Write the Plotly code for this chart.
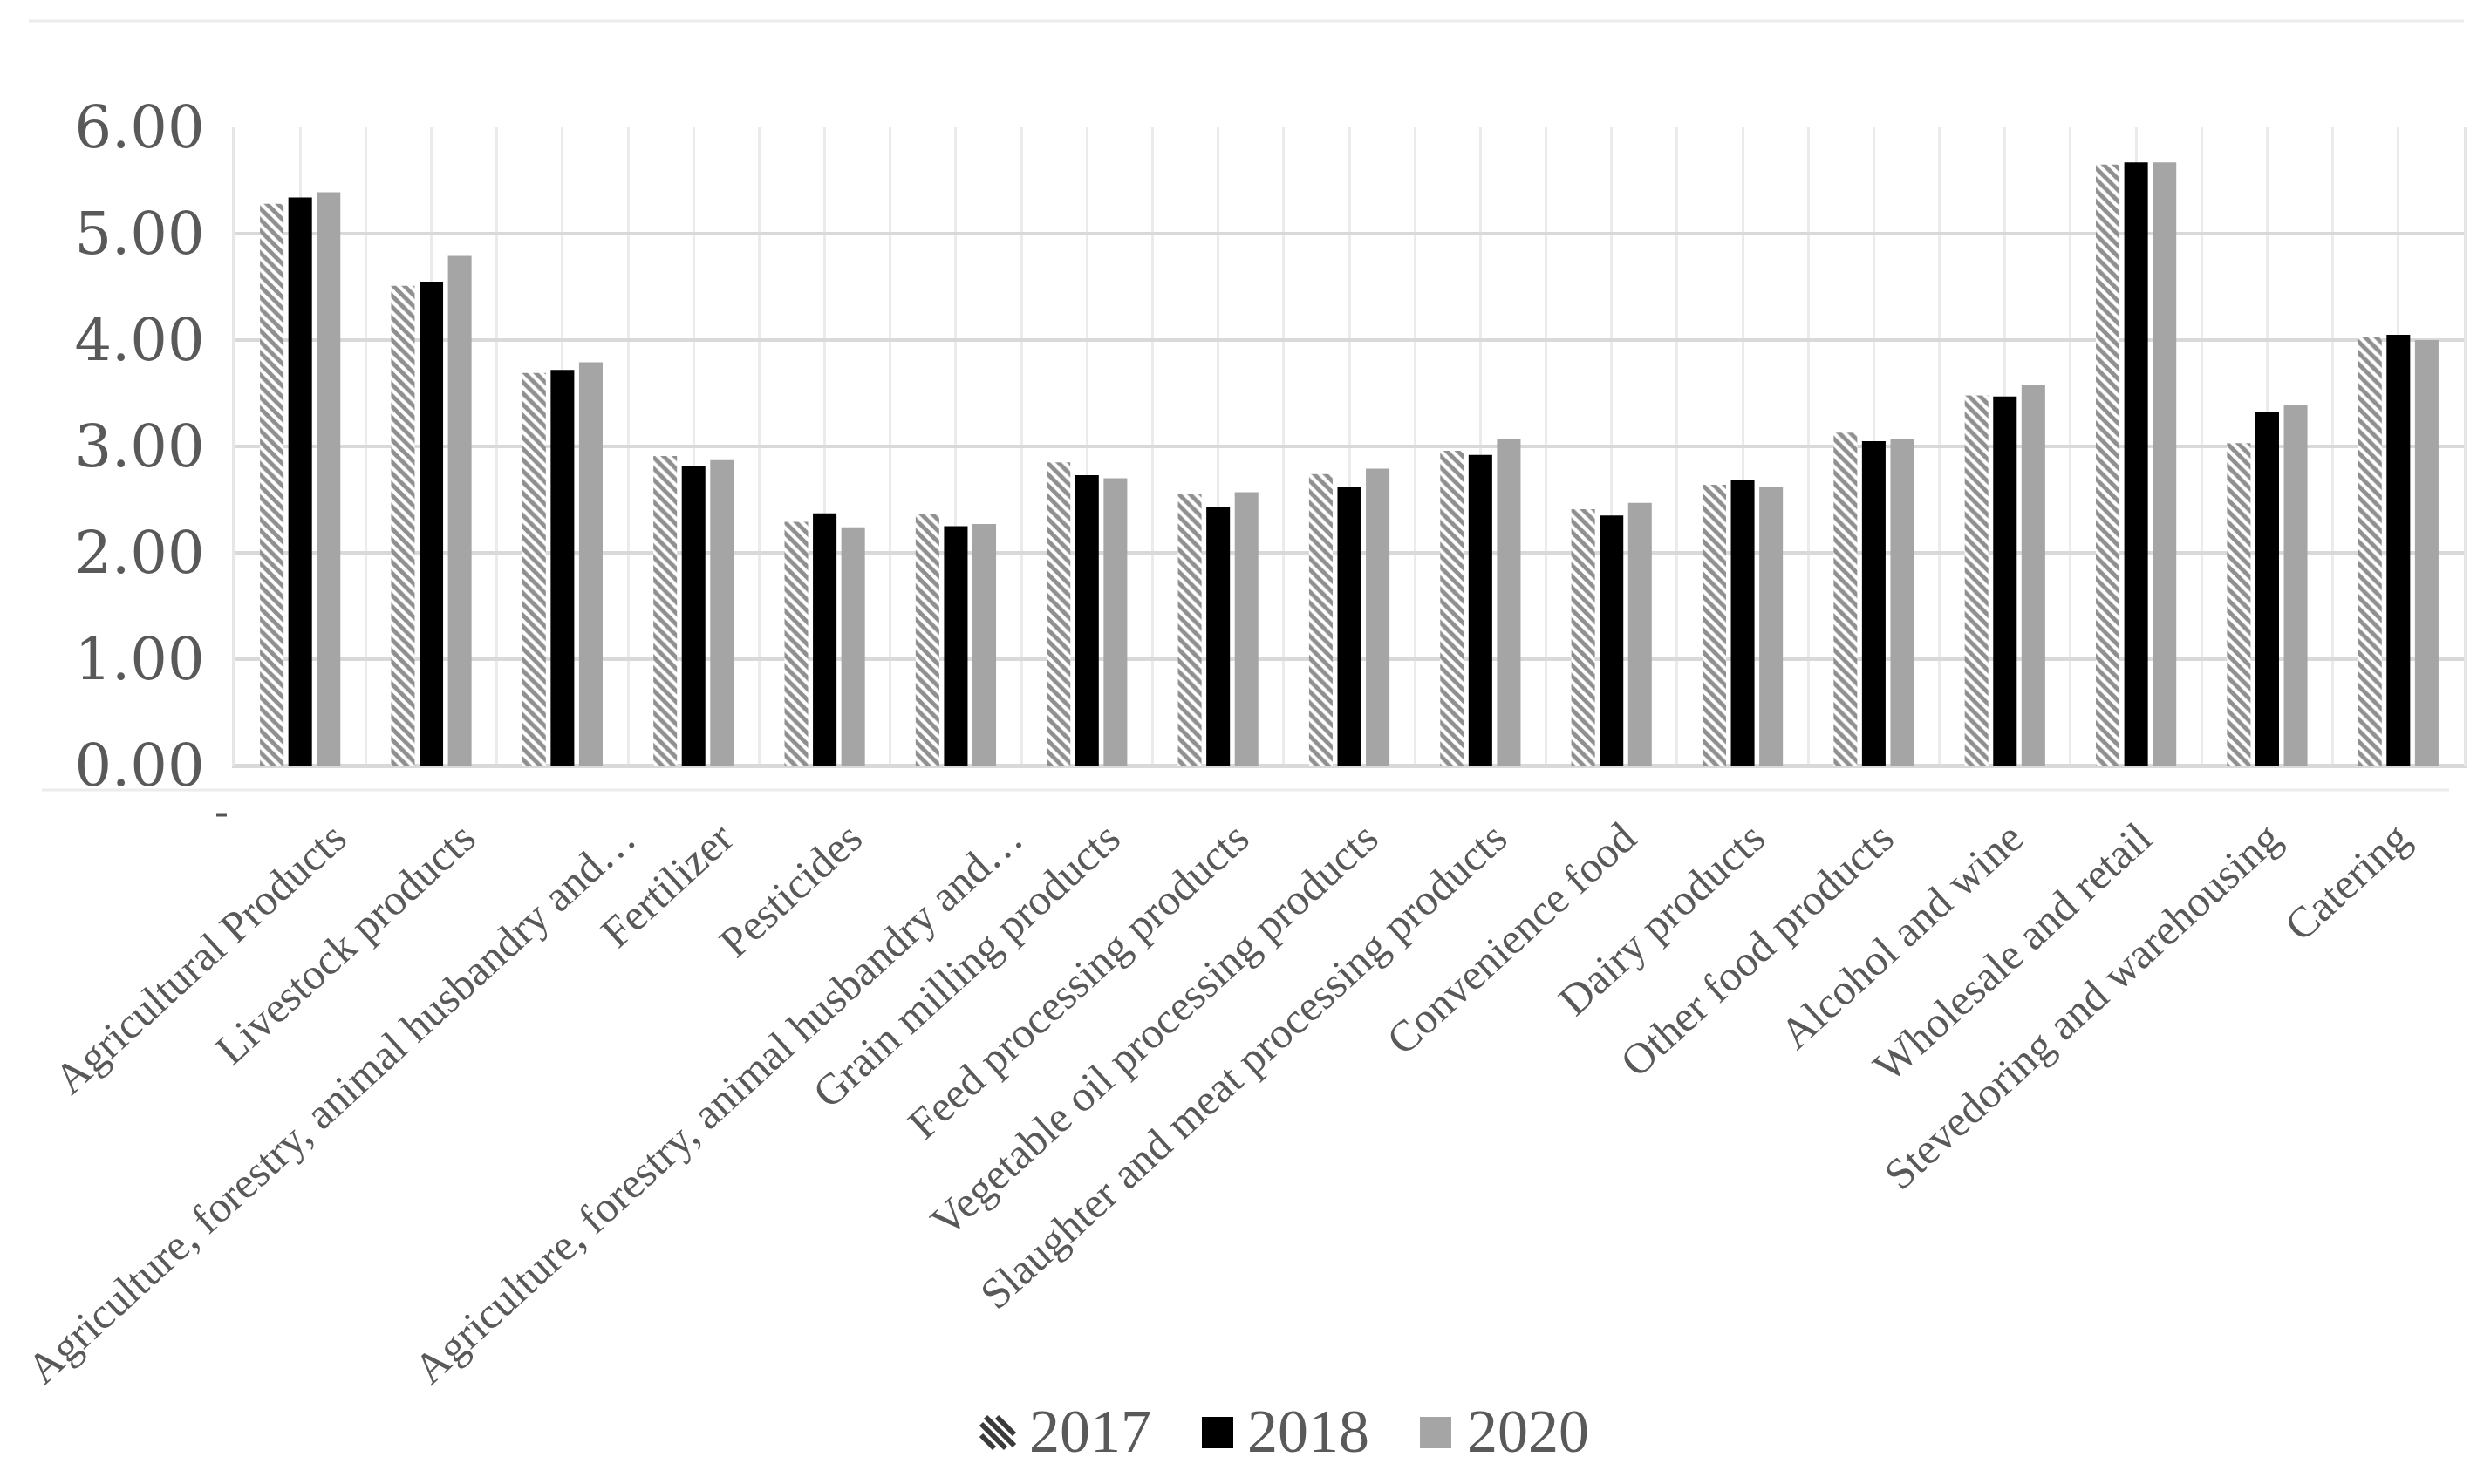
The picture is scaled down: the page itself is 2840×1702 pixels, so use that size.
import plotly.graph_objects as go

categories = [
    "Agricultural Products",
    "Livestock products",
    "Agriculture, forestry, animal husbandry and…",
    "Fertilizer",
    "Pesticides",
    "Agriculture, forestry, animal husbandry and…",
    "Grain milling products",
    "Feed processing products",
    "Vegetable oil processing products",
    "Slaughter and meat processing products",
    "Convenience food",
    "Dairy products",
    "Other food products",
    "Alcohol and wine",
    "Wholesale and retail",
    "Stevedoring and warehousing",
    "Catering",
]

v2017 = [5.28, 4.51, 3.69, 2.91, 2.29, 2.36, 2.85, 2.55, 2.74, 2.96, 2.41, 2.64, 3.13, 3.48, 5.65, 3.03, 4.03]
v2018 = [5.34, 4.55, 3.72, 2.82, 2.37, 2.25, 2.73, 2.43, 2.62, 2.92, 2.35, 2.68, 3.05, 3.47, 5.67, 3.32, 4.05]
v2020 = [5.39, 4.79, 3.79, 2.87, 2.24, 2.27, 2.70, 2.57, 2.79, 3.07, 2.47, 2.62, 3.07, 3.58, 5.67, 3.39, 4.00]

series_names = ["2017", "2018", "2020"]
series_colors = ["white", "#000000", "#a5a5a5"]

FONT = "Liberation Serif"
TXT = "#595959"

W, H = 2840, 1702
ML, MR, MT, MB = 261, 23, 138, 832
PW = W - ML - MR
PH = H - MT - MB


def px(xp):
    return (xp - ML) / PW


def py(yp):
    return (H - MB - yp) / PH


n = len(categories)
pos = list(range(n))
# label anchors: slight rightward nudge (the source image's labels are offset),
# truncated labels sit a bit further right
label_pos = [p + 0.26 - 0.0166 * p + (0.24 if categories[p].endswith("…") else 0.0)
             for p in pos]
grid_pos = [k * 0.5 - 0.5 for k in range(2 * n + 1)]

fig = go.Figure()
fig.add_trace(go.Bar(
    x=pos, y=v2017, name=series_names[0], showlegend=False,
    marker=dict(color=series_colors[0], line=dict(width=0),
                pattern=dict(shape="\\", fgcolor="#1f1f1f", bgcolor="white",
                             size=9, solidity=0.55)),
))
fig.add_trace(go.Bar(
    x=pos, y=v2018, name=series_names[1], showlegend=False,
    marker=dict(color=series_colors[1], line=dict(width=0)),
))
fig.add_trace(go.Bar(
    x=pos, y=v2020, name=series_names[2], showlegend=False,
    marker=dict(color=series_colors[2], line=dict(width=0)),
))

shapes = [
    dict(type="line", xref="paper", yref="paper", x0=px(25), x1=1.0, y0=py(16), y1=py(16),
         line=dict(color="#ececec", width=3)),
    dict(type="line", xref="paper", yref="paper", x0=px(40), x1=px(2800), y0=py(898), y1=py(898),
         line=dict(color="#ececec", width=3)),
    dict(type="line", xref="paper", yref="paper", x0=px(240), x1=px(252), y0=py(927), y1=py(927),
         line=dict(color="#555555", width=3)),
]
annotations = []

# ---- custom legend (large symbols like the reference) ----
icon_left = [1117, 1370, 1620]
text_left = [1170, 1420, 1672]
icon_top, icon_bot = 1617, 1653
text_mid = 1633

bw, bh = 38, 36
for c in [-21, -8, 5, 18]:
    if c >= 0:
        sx, sy = c, 0
    else:
        sx, sy = 0, -c
    ey = min(bh, bw - c)
    ex = ey + c
    shapes.append(dict(type="line", xref="paper", yref="paper",
                       x0=px(icon_left[0] + sx), y0=py(icon_top + sy),
                       x1=px(icon_left[0] + ex), y1=py(icon_top + ey),
                       line=dict(color="#3a3a3a", width=6)))
for i in (1, 2):
    shapes.append(dict(type="rect", xref="paper", yref="paper",
                       x0=px(icon_left[i]), x1=px(icon_left[i] + 36),
                       y0=py(icon_top), y1=py(icon_bot),
                       fillcolor=series_colors[i], line=dict(width=0)))
for i, name in enumerate(series_names):
    annotations.append(dict(text=name, xref="paper", yref="paper",
                            x=px(text_left[i]), y=py(text_mid),
                            xanchor="left", yanchor="middle", showarrow=False,
                            font=dict(family=FONT, size=70, color=TXT)))

fig.update_layout(
    width=W, height=H,
    margin=dict(l=ML, r=MR, t=MT, b=MB, autoexpand=False),
    paper_bgcolor="white", plot_bgcolor="white",
    barmode="group", bargap=0.35, bargroupgap=0.17,
    font=dict(family=FONT, color=TXT),
    showlegend=False,
    xaxis=dict(
        automargin=False,
        range=[-0.5, n - 0.5],
        tickmode="array", tickvals=label_pos, ticktext=categories,
        tickangle=-42.5, tickfont=dict(family=FONT, size=50, color=TXT),
        ticks="", ticklabelstandoff=31, ticklabeloverflow="allow",
        showgrid=False,
        minor=dict(tickmode="array", tickvals=grid_pos,
                   showgrid=True, gridcolor="#ebebeb", gridwidth=3, ticks=""),
        showline=True, linecolor="#d9d9d9", linewidth=3,
        zeroline=False,
    ),
    yaxis=dict(
        automargin=False,
        range=[0, 6], dtick=1, tickformat=".2f",
        tickfont=dict(family="DejaVu Serif", size=67, color=TXT),
        ticks="", ticklabelstandoff=18,
        showgrid=True, gridcolor="#d9d9d9", gridwidth=4,
        showline=True, mirror=True, linecolor="#e6e6e6", linewidth=3,
        zeroline=True, zerolinecolor="#d9d9d9", zerolinewidth=4,
    ),
    annotations=annotations,
    shapes=shapes,
)

fig.write_html("out.html")
